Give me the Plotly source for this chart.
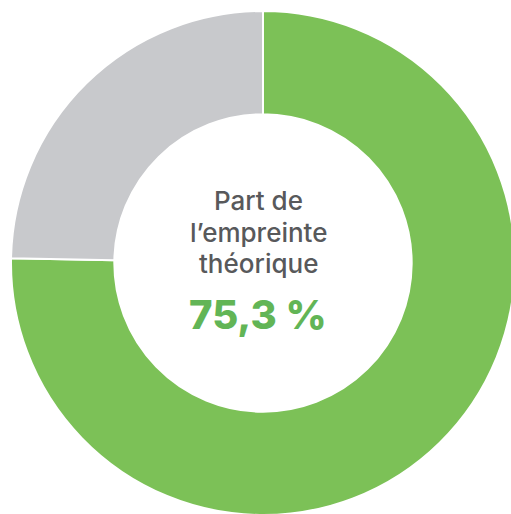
import plotly.graph_objects as go

labels = ["Part de l’empreinte théorique", "Reste"]
values = [75.3, 24.7]
colors = ["#7cc157", "#c8c9cc"]
center_title = ["Part de", "l’empreinte", "théorique"]
center_value = "75,3 %"

W, H = 530, 520
cx, cy, r = 263, 263, 252

fig = go.Figure()
fig.add_trace(go.Pie(
    labels=labels,
    values=values,
    hole=0.59,
    sort=False,
    direction="clockwise",
    rotation=0,
    marker=dict(colors=colors, line=dict(color="white", width=2)),
    textinfo="none",
    hoverinfo="label+percent",
    showlegend=False,
    domain=dict(x=[(cx - r) / W, (cx + r) / W],
                y=[(H - cy - r) / H, (H - cy + r) / H]),
))

tx = (cx - 5) / W
line_y = [201, 233, 263]
for txt, py in zip(center_title, line_y):
    fig.add_annotation(
        x=tx, y=(H - py) / H, xref="paper", yref="paper",
        text=txt, showarrow=False,
        font=dict(family="Inter", size=26, color="#58595b", weight=500),
        xanchor="center", yanchor="middle",
    )
fig.add_annotation(
    x=tx, y=(H - 314) / H, xref="paper", yref="paper",
    text=center_value, showarrow=False,
    font=dict(family="Inter", size=40, color="#62b556", weight=800),
    xanchor="center", yanchor="middle",
)

fig.update_layout(
    width=W, height=H,
    margin=dict(l=0, r=0, t=0, b=0),
    paper_bgcolor="white", plot_bgcolor="white",
)

fig.write_html("out.html", config={"displayModeBar": False},
               post_script="document.body.style.margin='0';document.body.style.overflow='hidden';")
